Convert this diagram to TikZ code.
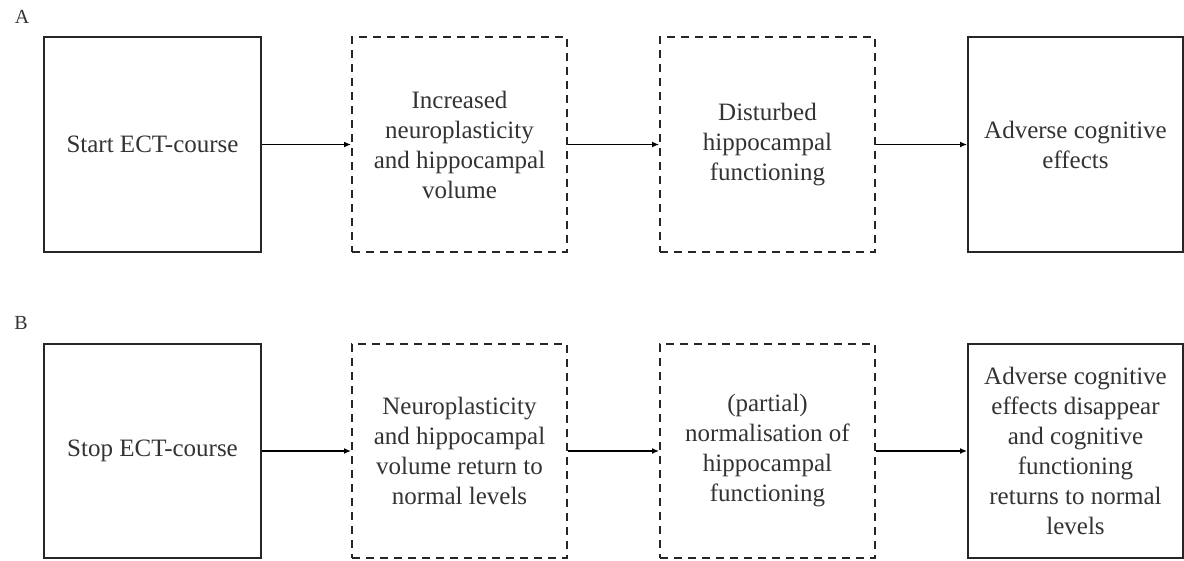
\documentclass[tikz,border=0pt]{standalone}
\usepackage{fontspec}
\setmainfont{Liberation Serif}
\usetikzlibrary{arrows.meta}
\begin{document}
\begin{tikzpicture}[x=1pt,y=-1pt,
  box/.style={draw=black!85, line width=2pt, minimum width=215pt, minimum height=214pt,
    align=center, inner sep=0pt, font=\fontsize{25}{30}\selectfont, text=black!80},
  dbox/.style={box, dash pattern=on 8pt off 6pt},
  conn/.style={draw=black, line width=1.3pt, -{Latex[length=7pt,width=6pt]}},
  lab/.style={font=\fontsize{20}{22}\selectfont, text=black!80}]
\useasboundingbox (0,0) rectangle (1184,560);
\node[lab] (la) at (22,17) {A};
\node[lab] (lb) at (21,323) {B};
% Row A
\node[box, minimum width=217pt, minimum height=215pt] (a1) at (152.5,144.5) {Start ECT-course};
\node[dbox, minimum height=215pt] (a2) at (459.5,144.5) {Increased\\neuroplasticity\\and hippocampal\\volume};
\node[dbox, minimum height=215pt] (a3) at (767.5,144.5) {Disturbed\\hippocampal\\functioning};
\node[box, minimum height=215pt] (a4) at (1075.5,144.5) {Adverse cognitive\\effects};
% Row B
\node[box, minimum width=217pt] (b1) at (152.5,451) {Stop ECT-course};
\node[dbox] (b2) at (459.5,451) {Neuroplasticity\\and hippocampal\\volume return to\\normal levels};
\node[dbox] (b3) at (767.5,451) {(partial)\\normalisation of\\hippocampal\\functioning};
\node[box] (b4) at (1075.5,451) {Adverse cognitive\\effects disappear\\and cognitive\\functioning\\returns to normal\\levels};
% Connectors
\draw[conn] (a1.east) -- (a2.west);
\draw[conn] (a2.east) -- (a3.west);
\draw[conn] (a3.east) -- (a4.west);
\draw[conn] (b1.east) -- (b2.west);
\draw[conn] (b2.east) -- (b3.west);
\draw[conn] (b3.east) -- (b4.west);
\end{tikzpicture}
\end{document}
